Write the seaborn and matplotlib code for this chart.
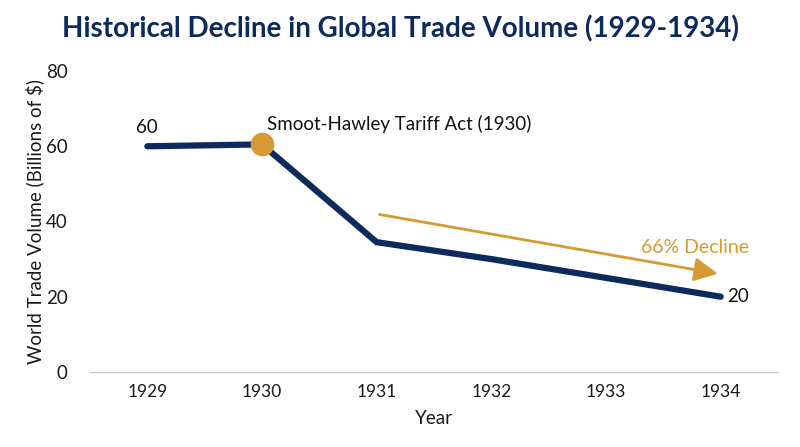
import matplotlib
matplotlib.use("Agg")
import matplotlib.pyplot as plt
import seaborn as sns
import pandas as pd

years = [1929, 1930, 1931, 1932, 1933, 1934]
volume = [60, 60.5, 34.5, 30, 25, 20]
y_ticks = [0, 20, 40, 60, 80]
title = "Historical Decline in Global Trade Volume (1929-1934)"
event_label = "Smoot-Hawley Tariff Act (1930)"
decline_label = "66% Decline"
arrow_start = (1931, 42)
arrow_end = (1934, 26)

NAVY = "#0c2a5b"
GOLD = "#d69a34"

sns.set_theme(style="white")
plt.rcParams['font.family'] = ['Lato', 'DejaVu Sans']

df = pd.DataFrame({"Year": years, "Volume": volume})

fig = plt.figure(figsize=(8, 4.47), dpi=100)
ax = fig.add_axes([0.1125, 0.168, 0.86, 0.673])

sns.lineplot(data=df, x="Year", y="Volume", ax=ax, color=NAVY, linewidth=4.5,
             solid_joinstyle="miter", solid_capstyle="round")

ax.plot([years[1]], [volume[1]], "o", color=GOLD, markersize=16, zorder=5)

ax.set_xlim(1928.5, 1934.5)
ax.set_ylim(0, 80)
ax.set_xticks(years)
ax.set_xticklabels([str(y) for y in years])
ax.set_yticks(y_ticks)
for s in ["top", "right", "left"]:
    ax.spines[s].set_visible(False)
ax.spines["bottom"].set_color("#cccccc")
ax.spines["bottom"].set_linewidth(1)
ax.tick_params(axis="x", length=0, labelsize=12.5, colors="#1a1a1a", pad=9)
ax.tick_params(axis="y", length=0, labelsize=13.5, colors="#1a1a1a", pad=16)
ax.set_xlabel("Year", fontsize=13.5, color="#1a1a1a", labelpad=7)
ax.set_ylabel("World Trade Volume (Billions of $)", fontsize=13.5, color="#1a1a1a", labelpad=1)

ax.text(years[0], volume[0] + 2.8, str(volume[0]), ha="center", va="bottom",
        fontsize=13.5, color="#111111")
ax.text(years[-1] + 0.06, volume[-1], str(volume[-1]), ha="left", va="center",
        fontsize=13.5, color="#111111")
ax.text(years[1] + 0.04, volume[1] + 5.5, event_label, ha="left", va="center",
        fontsize=13.5, color="#111111")

ax.annotate("", xy=arrow_end, xytext=arrow_start,
            arrowprops=dict(arrowstyle="-|>,head_length=1.2,head_width=0.6",
                            color=GOLD, lw=2))
ax.text(1934.25, 33, decline_label, ha="right", va="center", fontsize=14,
        color=GOLD)

fig.suptitle(title, x=0.5, y=0.965, fontsize=20, fontweight="bold", color=NAVY)

fig.savefig("out.png", dpi=100)
